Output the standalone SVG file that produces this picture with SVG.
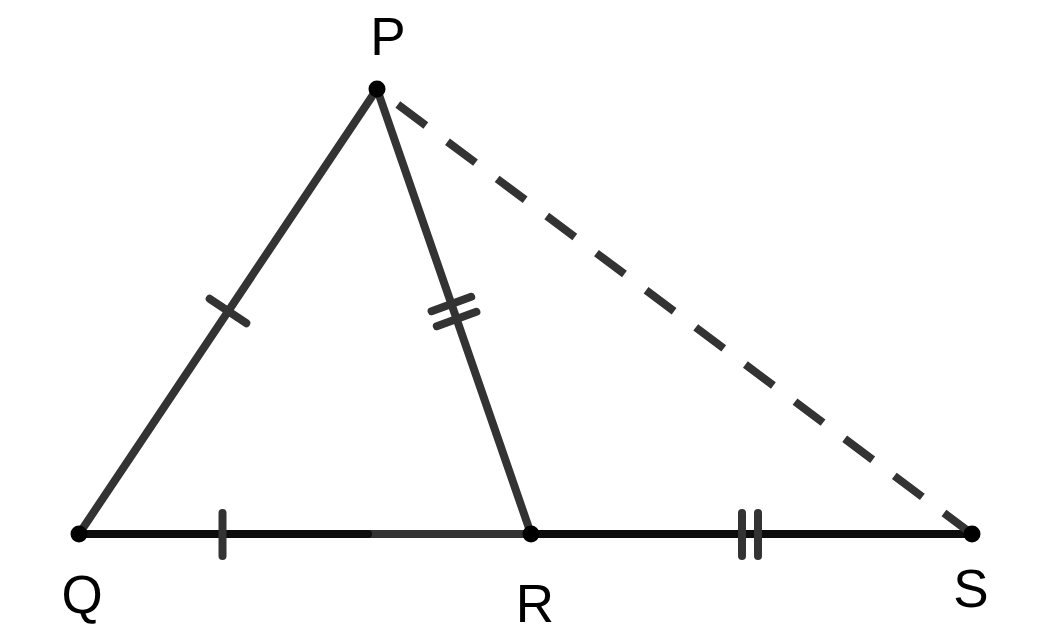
<svg xmlns="http://www.w3.org/2000/svg" width="1044" height="638" viewBox="0 0 1044 638">
<style>
.seg{stroke:#333;stroke-width:8;stroke-linecap:round;fill:none}
.dark{stroke:#0d0d0d;stroke-width:8;stroke-linecap:round;fill:none}
.tick{stroke:#333;stroke-width:8;stroke-linecap:round;fill:none}
.dash{stroke:#333;stroke-width:8;stroke-linecap:butt;fill:none;stroke-dasharray:35 27;stroke-dashoffset:36}
.lbl{font-family:"Liberation Sans",Arial,sans-serif;font-size:53px;fill:#000;text-anchor:middle}
.pt{fill:#000}
</style>
<rect width="1044" height="638" fill="#fff"/>
<g id="connectors">
<line class="seg" x1="377" y1="89" x2="79" y2="534"/>
<line class="seg" x1="377" y1="89" x2="531" y2="534"/>
<line class="seg" x1="79" y1="534" x2="531" y2="534"/>
<line class="dark" x1="79" y1="534" x2="368" y2="534"/>
<line class="dark" x1="531" y1="534" x2="972" y2="534"/>
<line class="dash" x1="377" y1="89" x2="972" y2="534"/>
<line class="tick" x1="209.7" y1="298.8" x2="246.3" y2="323.2"/>
<line class="tick" x1="431.6" y1="311.2" x2="471.2" y2="296.8"/>
<line class="tick" x1="436.8" y1="326.2" x2="476.4" y2="311.8"/>
<line class="tick" x1="222.5" y1="513" x2="222.5" y2="556"/>
<line class="tick" x1="742" y1="513" x2="742" y2="556"/>
<line class="tick" x1="758" y1="513" x2="758" y2="556"/>
</g>
<g id="P"><circle class="pt" cx="377" cy="89" r="8.5"/><text class="lbl" x="388" y="55">P</text></g>
<g id="Q"><circle class="pt" cx="79" cy="534" r="8.5"/><text class="lbl" x="82" y="613">Q</text></g>
<g id="R"><circle class="pt" cx="531" cy="534" r="8.5"/><text class="lbl" x="535" y="622">R</text></g>
<g id="S"><circle class="pt" cx="972" cy="534" r="8.5"/><text class="lbl" x="971" y="607">S</text></g>
</svg>
